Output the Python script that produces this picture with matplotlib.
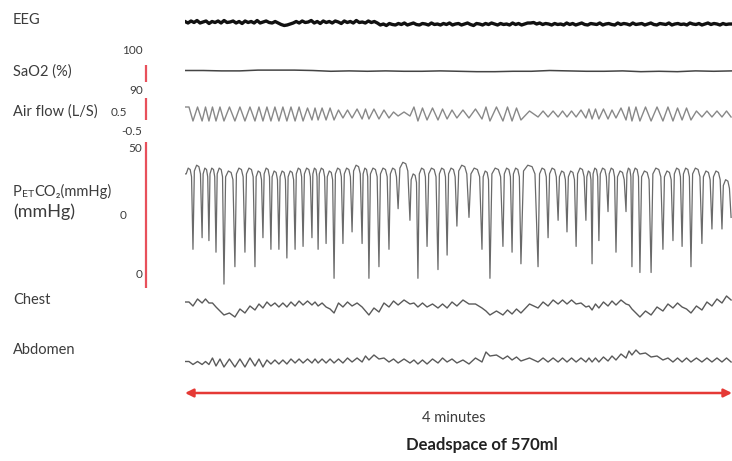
import numpy as np
import matplotlib
matplotlib.use('Agg')
import matplotlib.pyplot as plt

plt.rcParams['font.family'] = ['Lato', 'DejaVu Sans']

# breath timing over the 4-minute window (s)
breath_t = [3.5, 7.5, 10.5, 13.6, 17.1, 21.9, 26.3, 30.7, 34.2, 37.7,
            41.2, 44.7, 48.3, 51.8, 55.7, 58.4, 61.9, 65.4, 69.3, 73.3,
            77.7, 80.7, 85.1, 89.5, 93.5, 98.7, 102.2, 106.2, 111.0, 115.0,
            119.3, 124.6, 130.3, 133.8, 139.5, 143.5, 147.4, 154.9, 159.3, 163.7,
            167.6, 171.6, 175.9, 178.6, 181.6, 185.6, 189.1, 193.5, 196.1, 199.6,
            204.5, 209.7, 214.1, 218.1, 222.0, 226.8, 231.2, 235.6, 239.6]

# end-tidal CO2 per breath (mmHg): plateau and trough
petco2_high = [41, 42, 41, 41, 41, 40, 41, 41, 40, 41,
               40, 40, 40, 41, 41, 41, 41, 40, 41, 41,
               42, 41, 41, 41, 41, 43, 39, 41, 41, 41,
               41, 42, 41, 40, 41, 41, 41, 42, 41, 41,
               40, 40, 41, 40, 41, 41, 41, 40, 41, 41,
               40, 41, 40, 41, 41, 41, 40, 40, 37]
petco2_low = [13, 17, 16, 12, 1, 7, 12, 7, 17, 13,
              13, 10, 13, 14, 17, 13, 15, 3, 15, 19,
              15, 3, 7, 13, 27, 23, 3, 14, 6, 11,
              21, 24, 13, 3, 14, 12, 8, 7, 17, 23,
              19, 14, 23, 8, 16, 26, 12, 26, 7, 5,
              5, 13, 16, 14, 7, 15, 20, 20, 24]

# air flow peak per breath (L/s)
airflow_amp = [0.35, 0.35, 0.35, 0.35, 0.35, 0.35, 0.35, 0.35, 0.35, 0.35,
               0.35, 0.35, 0.35, 0.35, 0.30, 0.30, 0.30, 0.30, 0.20, 0.20,
               0.25, 0.25, 0.25, 0.20, 0.10, 0.10, 0.35, 0.30, 0.30, 0.25,
               0.20, 0.20, 0.25, 0.35, 0.35, 0.35, 0.30, 0.15, 0.15, 0.15,
               0.15, 0.15, 0.20, 0.25, 0.25, 0.25, 0.20, 0.30, 0.35, 0.35,
               0.35, 0.35, 0.35, 0.30, 0.30, 0.15, 0.15, 0.15, 0.15]

# chest / abdomen belt level and swing per breath (a.u.)
chest_mid = [3, 6, 6, 2, -6, -8, -4, -1, 1, 3,
             2, 2, 3, 4, 4, 3, 2, -4, 2, 3,
             2, -6, -3, 2, 4, 5, 2, 2, 1, 1,
             3, 5, 1, -6, -6, -5, -4, 1, 3, 5,
             5, 5, 2, -1, 1, 3, 4, 5, 0, -8,
             -6, -2, 1, 2, -4, -1, 3, 6, 9]
chest_swing = [2, 2, 2, 2, 2, 2, 2, 2, 2, 2,
               2, 2, 2, 2, 2, 2, 2, 2, 2, 2,
               2, 2, 2, 2, 2, 2, 2, 2, 2, 2,
               2, 2, 2, 2, 2, 2, 2, 2, 2, 2,
               2, 2, 2, 2, 2, 2, 2, 2, 2, 2,
               2, 2, 2, 2, 2, 2, 2, 2, 2]
abdomen_mid = [-3, -3, -3, -2, -3, -3, -3, -2, -3, -2,
               -2, -2, -1, -1, -1, -1, -1, -1, -1, 0,
               0, 2, 3, 0, -1, -1, -2, -2, -1, 0,
               -1, -2, 0, 6, 3, 2, 1, 0, 0, 0,
               0, 0, 0, 0, 0, 1, 2, 4, 7, 8,
               5, 2, 0, 0, 0, 0, 0, 0, 0]
abdomen_swing = [1.5, 1.5, 1.5, 4, 4, 4, 4, 4, 4, 2,
                 2, 2, 2, 2, 2, 2, 2, 2, 2, 2,
                 2, 2, 2, 2, 2, 2, 2, 2, 2, 2,
                 2, 2, 2, 2, 2, 2, 2, 2, 2, 2,
                 2, 2, 2, 2, 2, 2, 2, 2, 2, 2,
                 2, 2, 2, 2, 2, 2, 2, 2, 2]

# EEG (a.u.), evenly sampled
eeg = [0.5, -1, 1, -0.5, 1.5, -1, 0, 1, -1.5, 0.5,
       -0.5, 1, -1, 1.5, -0.5, 0, 1, -1, 0.5, -1.5,
       1, -0.5, 0.5, -1, 1.5, -1, 0, 1, -0.5, -1,
       0.5, -1,
       -2.5, -3.5, -3, -2, -1,
       0.5, -1, 1, -0.5, 0, 1.5, -1, 0.5, -1.5, 1,
       -0.5, 0.5, -1, 1, 0, -1.5, 1, -0.5, 0.5, -1,
       1.5, -0.5, 0, -1, 1, -0.5, 0.5, -1,
       -3, -2, -3.5, -1.5, -2.5, -3, -1.5, -2.5, -1, -3,
       -2, -1, -2.5, -3, -1.5, -2, -3, -1, -2.5, -2,
       -3, -1.5, -2.5, -1, -3, -2, -1.5, -3, -2, -1,
       -2.5, -3.5, -1.5, -2, -3, -1.5, -2.5, -1, -2, -3,
       -1.5, -2.5, -2, -3, -1, -2.5, -1.5, -3, -2, -1,
       -1, -0.5, -2, -1, -2.5, -1.5, -2, -3, -1.5, -2.5,
       -2, -3, -1, -2.5, -1.5, -3, -2, -1, -2.5, -3,
       -1.5, -2, -2.5, -1, -3, -2, -1.5, -2.5, -3, -1,
       -2.5, -1.5, -2, -3, -1, -2.5, -2, -1.5, -3, -2,
       -1, -2.5, -3, -1.5, -2, -2.5, -1, -3, -2, -1.5,
       -2.5, -2, -3, -1, -2, -2.5, -1.5, -3, -2, -1,
       -2.5, -1.5, -2, -3, -1.5, -2.5, -2, -2]

# SaO2 (%), evenly sampled
sao2 = [95.0, 95.0, 94.9, 94.9, 95.1, 95.1, 95.1, 95.0, 94.8, 94.9,
        94.8, 94.9, 94.8, 94.8, 94.9, 94.8, 94.7, 94.7, 94.8, 94.8,
        95.0, 94.9, 94.8, 94.8, 94.9, 94.7, 94.8, 94.7, 94.9, 94.8, 94.9]

DURATION = 240
W, H = 732, 461
TXT = '#3c3c3c'
RED = '#e8505b'


def breath_wave(times, high, low, frac=0.5):
    """Vertices alternating between each breath's high and low value."""
    t, v = [0.0], [high[0]]
    prev = 0.0
    for ti, hi, lo in zip(times, high, low):
        t += [prev + frac * (ti - prev), ti]
        v += [hi, lo]
        prev = ti
    return np.array(t), np.array(v)


def capno_wave(times, high, low):
    """Rounded plateau for each breath followed by a sharp dip to its trough."""
    t, v = [0.0], [high[0] - 2]
    prev = 0.0
    for ti, hi, lo in zip(times, high, low):
        d = ti - prev
        t += [prev + 0.15 * d, prev + 0.4 * d, prev + 0.65 * d, prev + 0.82 * d, ti]
        v += [hi - 2, hi, hi - 0.5, hi - 3, lo]
        prev = ti
    return np.array(t), np.array(v)


def trace_axes(top, bottom, ylim):
    ax = fig.add_axes([185 / W, 1 - bottom / H, 547 / W, (bottom - top) / H])
    ax.set_xlim(0, DURATION)
    ax.set_ylim(*ylim)
    ax.axis('off')
    return ax


fig = plt.figure(figsize=(W / 100, H / 100), dpi=100)
ax0 = fig.add_axes([0, 0, 1, 1])
ax0.set_xlim(0, W)
ax0.set_ylim(H, 0)
ax0.axis('off')

# EEG
ax = trace_axes(12, 32, (-10, 10))
ax.plot(np.linspace(0, DURATION, len(eeg)), eeg, color='#111111', lw=2.4)

# SaO2
ax = trace_axes(51, 90, (90, 100))
ax.plot(np.linspace(0, DURATION, len(sao2)), sao2, color='#444444', lw=1.1)

# air flow
amp = np.array(airflow_amp)
ax = trace_axes(98, 130, (-0.8, 0.8))
t, v = breath_wave(breath_t, amp, -amp)
ax.plot(t, v, color='#888888', lw=1.0)

# PETCO2
ax = trace_axes(142, 287, (0, 50))
t, v = capno_wave(breath_t, petco2_high, petco2_low)
ax.plot(t, v, color='#6a6a6a', lw=0.9, solid_joinstyle='round')

# chest and abdomen belts
cm, cs = np.array(chest_mid), np.array(chest_swing)
ax = trace_axes(287, 327, (-20, 20))
t, v = breath_wave(breath_t, cm + cs, cm - cs)
ax.plot(t, v, color='#5a5a5a', lw=1.0)

am, asw = np.array(abdomen_mid), np.array(abdomen_swing)
ax = trace_axes(340, 380, (-20, 20))
t, v = breath_wave(breath_t, am + asw, am - asw)
ax.plot(t, v, color='#5a5a5a', lw=1.0)

# time bar
ax = trace_axes(385, 401, (-1, 1))
ax.annotate('', xy=(DURATION, 0), xytext=(0, 0), annotation_clip=False,
            arrowprops=dict(arrowstyle='<|-|>', color='#e53935', lw=1.8,
                            mutation_scale=12, shrinkA=0, shrinkB=0))

# channel labels
LBL = 10.5
ax0.text(13, 20, 'EEG', fontsize=LBL, color=TXT, va='center')
ax0.text(13, 72, 'SaO2 (%)', fontsize=LBL, color=TXT, va='center')
ax0.text(13, 112, 'Air flow (L/S)', fontsize=LBL, color=TXT, va='center')
p = ax0.text(13, 196, 'P', fontsize=LBL, color=TXT, va='baseline')
et = ax0.annotate('ET', xy=(1, 0), xycoords=p, fontsize=7.5, color=TXT, va='bottom')
ax0.annotate('CO\u2082(mmHg)', xy=(1, 0), xycoords=et, fontsize=LBL, color=TXT, va='bottom')
ax0.text(13, 212, '(mmHg)', fontsize=13, color=TXT, va='center')
ax0.text(13, 300, 'Chest', fontsize=LBL, color=TXT, va='center')
ax0.text(13, 350, 'Abdomen', fontsize=LBL, color=TXT, va='center')

# scale bars
for y0, y1 in [(65, 82), (98, 120), (142, 288)]:
    ax0.plot([146, 146], [y0, y1], color=RED, lw=1.6, solid_capstyle='butt')
for s, x, y in [('100', 143, 50), ('90', 143, 90), ('0.5', 127, 112),
                ('-0.5', 142, 131), ('50', 142, 148), ('0', 127, 215), ('0', 143, 274)]:
    ax0.text(x, y, s, fontsize=8.5, color=TXT, ha='right', va='center')

ax0.text(454, 418, '4 minutes', fontsize=LBL, color=TXT, ha='center', va='center')
ax0.text(482, 445, 'Deadspace of 570ml', fontsize=12, fontweight='bold',
         color='#222222', ha='center', va='center')

fig.savefig('out.png', dpi=100, facecolor='white')
